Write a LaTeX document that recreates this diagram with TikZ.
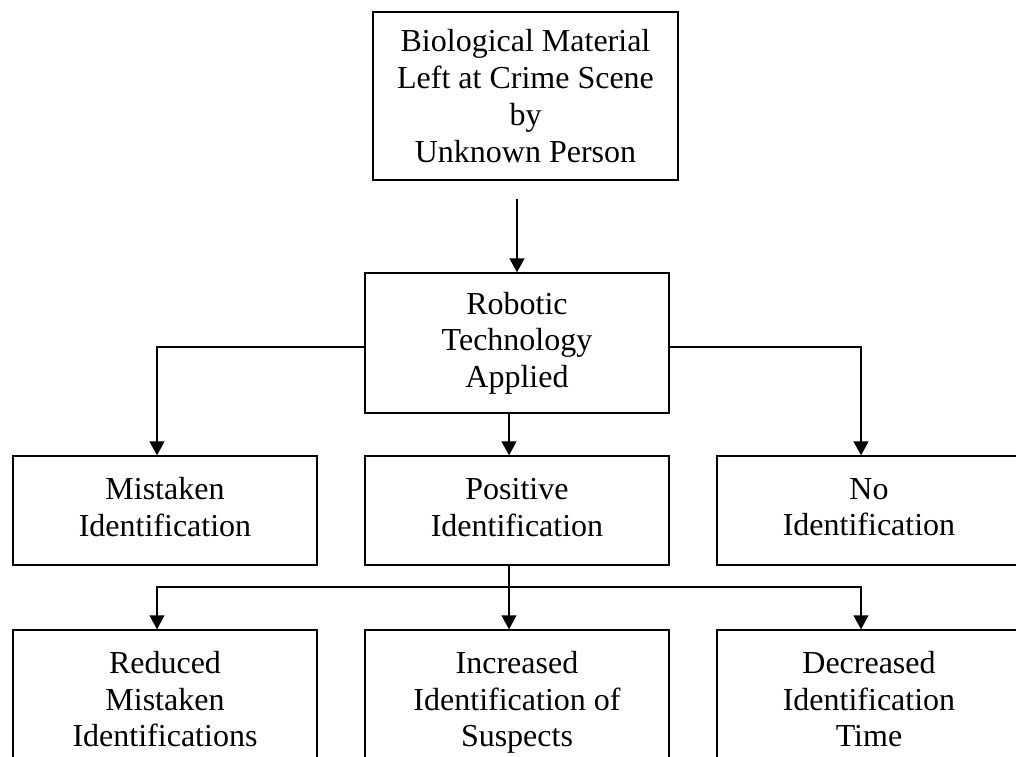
\documentclass[tikz,border=0pt]{standalone}
\usepackage{fontspec}
\setmainfont{Liberation Serif}
\usetikzlibrary{arrows.meta}

\tikzset{
  box/.style={draw, line width=1.5pt, minimum width=304pt, align=center,
    inner sep=0pt, font=\fontsize{32}{36.7}\selectfont},
  arr/.style={line width=1.5pt, -{Triangle[width=15pt,length=14pt]}}
}

\begin{document}
\begin{tikzpicture}[x=1pt,y=-1pt]
\useasboundingbox[fill=white] (0,0) rectangle (1016,756);
\node[box, minimum width=305pt, minimum height=168pt] (scene) at (525.5,96) {Biological Material\\Left at Crime Scene\\by\\Unknown Person};
\node[box, minimum height=140pt] (robot) at (517,343) {Robotic\\Technology\\Applied};
\node[box, minimum height=109pt] (mistaken) at (165,510.5) {Mistaken\\Identification\vphantom{p}};
\node[box, minimum height=109pt] (positive) at (517,510.5) {Positive\\Identification\vphantom{p}};
\node[box, minimum height=109pt] (noid) at (869,510.5) {No\\Identification\vphantom{p}};
\node[box, minimum height=145pt] (reduced) at (165,702.5) {Reduced\\Mistaken\\Identifications\vphantom{p}};
\node[box, minimum height=145pt] (increased) at (517,702.5) {Increased\\Identification of\\Suspects};
\node[box, minimum height=145pt] (decreased) at (869,702.5) {Decreased\\Identification\\Time\vphantom{p}};
\coordinate (gap) at (517,199);
\coordinate (split) at (509,587);
\draw[arr] (gap) -- (robot.north);
\draw[arr] ([yshift=-4pt]robot.west) -| ([xshift=-8pt]mistaken.north);
\draw[arr] ([yshift=-4pt]robot.east) -| ([xshift=-8pt]noid.north);
\draw[arr] ([xshift=-8pt]robot.south) -- ([xshift=-8pt]positive.north);
\draw[arr] ([xshift=-8pt]positive.south) -- ([xshift=-8pt]increased.north);
\draw[arr] (split) -| ([xshift=-8pt]reduced.north);
\draw[arr] (split) -| ([xshift=-8pt]decreased.north);
\end{tikzpicture}
\end{document}
